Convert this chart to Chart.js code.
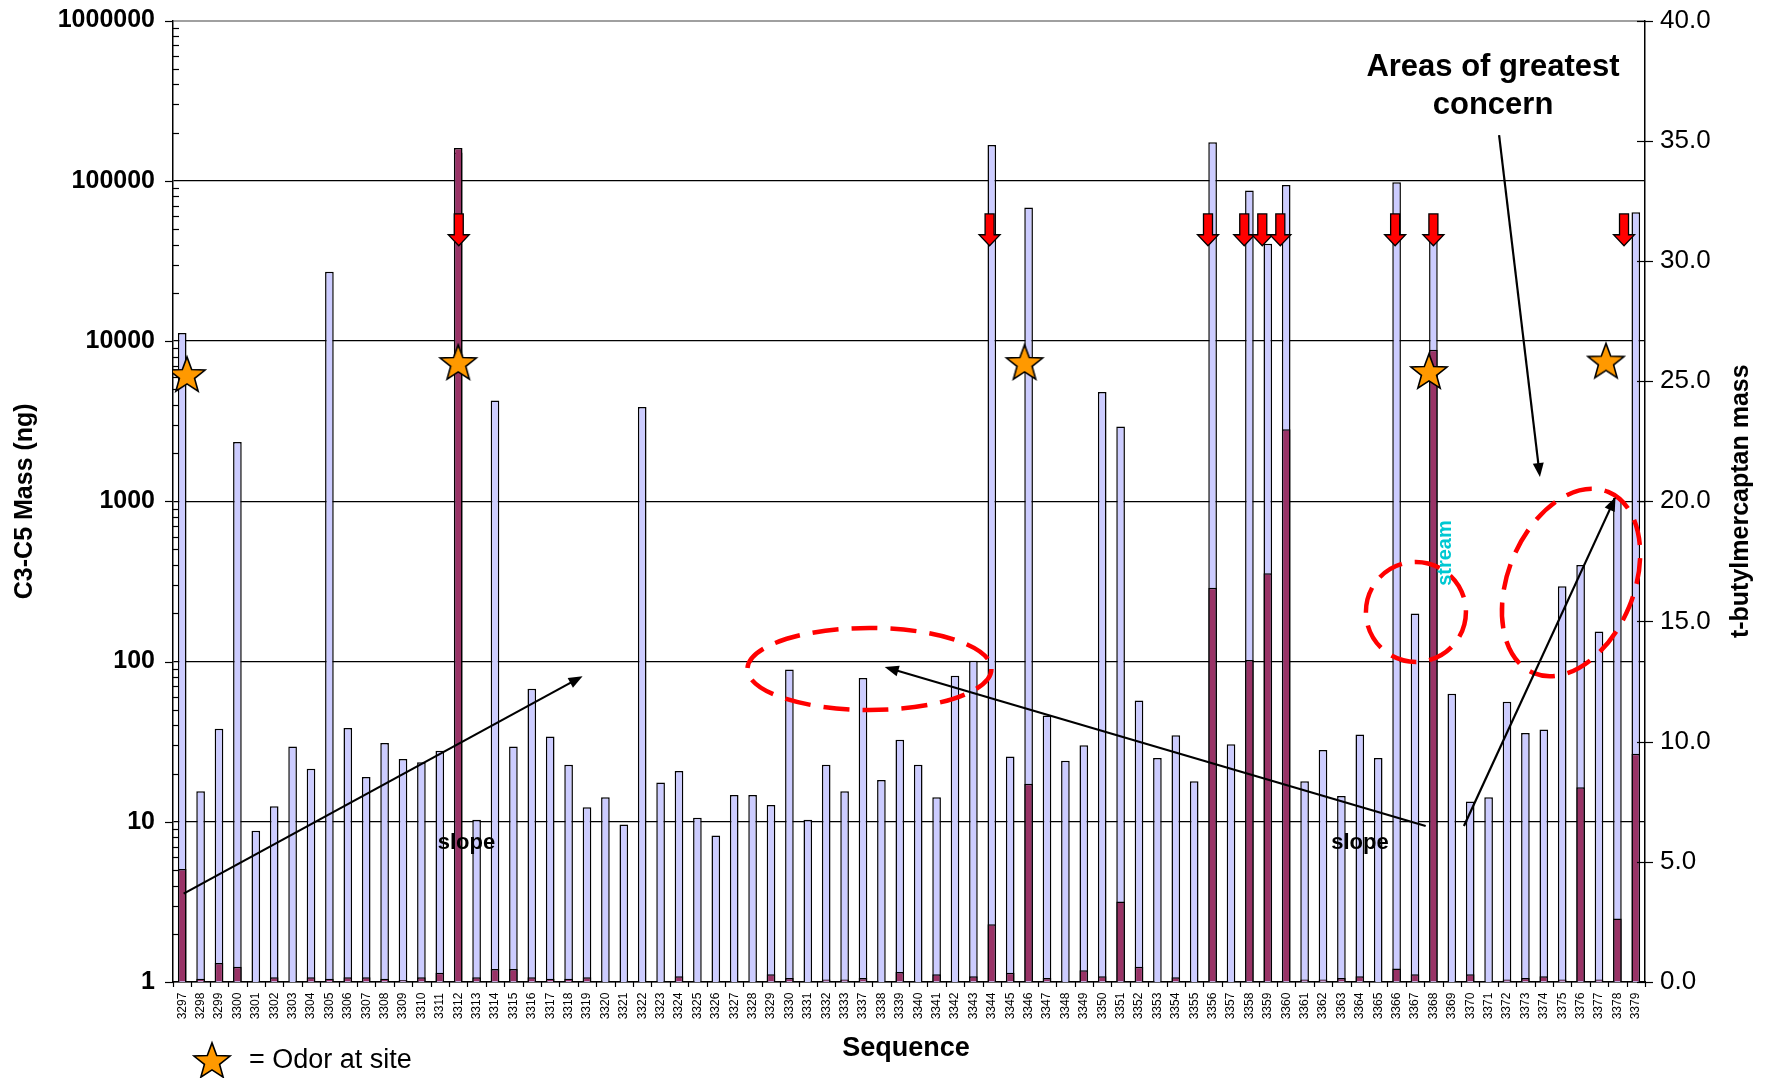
<!DOCTYPE html>
<html>
<head>
<meta charset="utf-8">
<script src="https://cdn.jsdelivr.net/npm/chart.js@4/dist/chart.umd.min.js"></script>
<style>
  html, body { margin: 0; padding: 0; background: #fff; }
  canvas { display: block; }
</style>
</head>
<body>
<canvas id="chart" width="1767" height="1078"></canvas>
<script>
const FONT = "'Liberation Sans', Arial, Helvetica, sans-serif";

// Sample sequence numbers (3334-3336 were not sampled)
const sequences = [
  '3297','3298','3299','3300','3301','3302','3303','3304','3305','3306',
  '3307','3308','3309','3310','3311','3312','3313','3314','3315','3316',
  '3317','3318','3319','3320','3321','3322','3323','3324','3325','3326',
  '3327','3328','3329','3330','3331','3332','3333','3337','3338','3339',
  '3340','3341','3342','3343','3344','3345','3346','3347','3348','3349',
  '3350','3351','3352','3353','3354','3355','3356','3357','3358','3359',
  '3360','3361','3362','3363','3364','3365','3366','3367','3368','3369',
  '3370','3371','3372','3373','3374','3375','3376','3377','3378','3379'
];

// C3-C5 mass (ng), left logarithmic axis
const c3c5Mass = [
  11200, 15.5, 38, 2340, 8.8, 12.5, 29.5, 21.4, 27000, 38.5,
  19, 31, 24.6, 23.5, 27.7, 150000, 10.3, 4250, 29.5, 67.5,
  34, 22.7, 12.3, 14.2, 9.6, 3870, 17.6, 20.7, 10.6, 8.2,
  14.7, 14.7, 12.7, 89, 10.3, 22.7, 15.5, 79, 18.2, 32.5,
  22.7, 14.2, 81.5, 101, 167000, 25.5, 68000, 46, 24, 30,
  4800, 2930, 57, 25, 34.7, 17.9, 174000, 30.5, 87000, 40500,
  94000, 17.9, 28, 14.5, 35, 25, 98000, 199, 62000, 63,
  13.4, 14.2, 56, 35.8, 37.6, 295, 400, 154, 1050, 63500
];

// t-butylmercaptan mass, right linear axis
const tbmMass = [
  4.7, 0.14, 0.79, 0.63, 0, 0.2, 0, 0.2, 0.14, 0.2,
  0.2, 0.14, 0.08, 0.2, 0.38, 34.7, 0.2, 0.54, 0.54, 0.2,
  0.14, 0.14, 0.2, 0, 0, 0, 0, 0.24, 0, 0,
  0, 0, 0.32, 0.17, 0, 0.1, 0.1, 0.17, 0, 0.42,
  0, 0.32, 0, 0.24, 2.4, 0.39, 8.25, 0.17, 0, 0.49,
  0.24, 3.35, 0.63, 0, 0.2, 0, 16.4, 0, 13.4, 17,
  23.0, 0.1, 0.1, 0.17, 0.24, 0, 0.56, 0.32, 26.3, 0,
  0.32, 0, 0.1, 0.17, 0.24, 0.1, 8.1, 0.1, 2.64, 9.5
];

const leftTicks = [1, 10, 100, 1000, 10000, 100000, 1000000];
const rightTicks = [0, 5, 10, 15, 20, 25, 30, 35, 40];

// Odor-at-site markers: x in sequence positions, y on the mass axis
const odorSites = [
  { x: 0.26, y: 6220 }, { x: 15.0, y: 7400 }, { x: 45.78, y: 7400 },
  { x: 67.76, y: 6500 }, { x: 77.38, y: 7550 }
];

// Red drop markers (sequence positions), spanning these mass levels
const dropMarkers = [15.03, 43.88, 55.75, 57.72, 58.7, 59.68, 65.92, 68.0, 78.36];
const dropTop = 62100, dropTip = 39300;

// Trend arrows: [position, mass] -> [position, mass]
const trendArrows = [
  { from: [0.08, 3.56],     to: [21.76, 81] },
  { from: [67.58, 9.4],     to: [38.18, 92.4] },
  { from: [69.66, 9.4],     to: [77.9, 1063] },
  { from: [71.57, 192900],  to: [73.79, 1417] }
];

// Dashed rings around areas of interest (centre in data units, radii in px)
const concernRings = [
  { x: 37.35, y: 89.8, rx: 122, ry: 41, rot: 0 },
  { x: 67.05, y: 204,  rx: 50,  ry: 50, rot: 0 },
  { x: 75.48, y: 311,  rx: 98,  ry: 63, rot: -67.7 }
];

const notes = [
  { text: 'slope',  x: 15.45, y: 7.37, size: 22, color: '#000', rot: 0 },
  { text: 'slope',  x: 64.01, y: 7.37, size: 22, color: '#000', rot: 0 },
  { text: 'stream', x: 68.63, y: 475,  size: 20, color: '#00C8D2', rot: -90 },
  { text: 'Areas of greatest', x: 71.24, y: 512000, size: 31, color: '#000', rot: 0 },
  { text: 'concern',           x: 71.24, y: 297000, size: 31, color: '#000', rot: 0 }
];

function makeStar(r) {
  const s = Math.ceil(r * 2 + 6);
  const c = document.createElement('canvas');
  c.width = s; c.height = s;
  const g = c.getContext('2d');
  g.translate(s / 2, s / 2 + r * 0.1);
  g.beginPath();
  for (let i = 0; i < 10; i++) {
    const rad = i % 2 ? r * 0.42 : r;
    const a = -Math.PI / 2 + i * Math.PI / 5;
    g.lineTo(rad * Math.cos(a), rad * Math.sin(a));
  }
  g.closePath();
  g.fillStyle = '#FF9900';
  g.fill();
  g.lineWidth = 1.6;
  g.strokeStyle = '#000';
  g.stroke();
  return c;
}
const starImg = makeStar(19);

function seg(ctx, x1, y1, x2, y2) {
  ctx.beginPath(); ctx.moveTo(x1, y1); ctx.lineTo(x2, y2); ctx.stroke();
}

function blackArrow(ctx, x1, y1, x2, y2) {
  const len = 14, half = 5.5;
  const a = Math.atan2(y2 - y1, x2 - x1);
  const c = Math.cos(a), s = Math.sin(a);
  ctx.strokeStyle = '#000'; ctx.fillStyle = '#000'; ctx.lineWidth = 2.2;
  seg(ctx, x1, y1, x2 - c * len * 0.7, y2 - s * len * 0.7);
  ctx.beginPath();
  ctx.moveTo(x2, y2);
  ctx.lineTo(x2 - len * c + half * s, y2 - len * s - half * c);
  ctx.lineTo(x2 - len * c - half * s, y2 - len * s + half * c);
  ctx.closePath();
  ctx.fill();
}

function dropArrow(ctx, cx, top, tip) {
  const sw = 4.5, hw = 10.5, hl = 11;
  ctx.beginPath();
  ctx.moveTo(cx - sw, top); ctx.lineTo(cx + sw, top);
  ctx.lineTo(cx + sw, tip - hl); ctx.lineTo(cx + hw, tip - hl);
  ctx.lineTo(cx, tip);
  ctx.lineTo(cx - hw, tip - hl); ctx.lineTo(cx - sw, tip - hl);
  ctx.closePath();
  ctx.fillStyle = '#FF0000'; ctx.fill();
  ctx.lineWidth = 1.3; ctx.strokeStyle = '#000'; ctx.stroke();
}

const overlay = {
  id: 'overlay',
  afterDatasetsDraw(chart) {
    const { ctx, chartArea: a, scales } = chart;
    const { x, xs, y, y2 } = scales;
    const px = v => xs.getPixelForValue(v);
    const py = v => y.getPixelForValue(v);
    ctx.save();

    // left axis: major ticks outside, minor ticks inside
    ctx.strokeStyle = '#000'; ctx.lineWidth = 1.2;
    for (let d = 0; d < 6; d++) {
      for (let k = 2; k <= 9; k++) {
        const yy = Math.round(py(k * Math.pow(10, d))) + 0.5;
        seg(ctx, a.left, yy, a.left + 6, yy);
      }
    }
    leftTicks.forEach(v => {
      const yy = Math.round(py(v)) + 0.5;
      seg(ctx, a.left - 8, yy, a.left, yy);
    });

    // right axis ticks crossing the axis line
    rightTicks.forEach(v => {
      const yy = Math.round(y2.getPixelForValue(v)) + 0.5;
      seg(ctx, a.right - 8, yy, a.right + 8, yy);
    });

    // category boundary ticks and rotated sequence labels
    const w = (a.right - a.left) / sequences.length;
    for (let i = 0; i <= sequences.length; i++) {
      const xx = Math.round(a.left + i * w) + 0.5;
      seg(ctx, xx, a.bottom, xx, a.bottom + 5);
    }
    ctx.fillStyle = '#000';
    ctx.font = `12px ${FONT}`;
    ctx.textAlign = 'center'; ctx.textBaseline = 'middle';
    sequences.forEach((lab, i) => {
      ctx.save();
      ctx.translate(x.getPixelForValue(i), a.bottom + 24);
      ctx.rotate(-Math.PI / 2);
      ctx.fillText(lab, 0, 0);
      ctx.restore();
    });

    // axis titles
    ctx.font = `bold 25px ${FONT}`;
    ctx.save();
    ctx.translate(25, (a.top + a.bottom) / 2);
    ctx.rotate(-Math.PI / 2);
    ctx.fillText('C3-C5 Mass (ng)', 0, 0);
    ctx.restore();
    ctx.save();
    ctx.translate(1741, (a.top + a.bottom) / 2);
    ctx.rotate(-Math.PI / 2);
    ctx.fillText('t-butylmercaptan mass', 0, 0);
    ctx.restore();
    ctx.font = `bold 27px ${FONT}`;
    ctx.fillText('Sequence', (a.left + a.right) / 2 - 3, 1049);

    // legend for the odor marker
    ctx.drawImage(starImg, 212 - starImg.width / 2, 1060 - starImg.height / 2);
    ctx.font = `27px ${FONT}`;
    ctx.textAlign = 'left';
    ctx.fillText('= Odor at site', 249, 1061);

    // dashed rings
    ctx.strokeStyle = '#FF0000'; ctx.lineWidth = 4.5;
    ctx.setLineDash([26, 13]);
    concernRings.forEach(r => {
      ctx.beginPath();
      ctx.ellipse(px(r.x), py(r.y), r.rx, r.ry, r.rot * Math.PI / 180, 0, Math.PI * 2);
      ctx.stroke();
    });
    ctx.setLineDash([]);

    // trend arrows
    trendArrows.forEach(t => {
      blackArrow(ctx, px(t.from[0]), py(t.from[1]), px(t.to[0]), py(t.to[1]));
    });

    // red drop markers
    dropMarkers.forEach(p => dropArrow(ctx, px(p), py(dropTop), py(dropTip)));

    // text notes
    ctx.textAlign = 'center'; ctx.textBaseline = 'middle';
    notes.forEach(n => {
      ctx.save();
      ctx.fillStyle = n.color;
      ctx.font = `bold ${n.size}px ${FONT}`;
      ctx.translate(px(n.x), py(n.y));
      ctx.rotate(n.rot * Math.PI / 180);
      ctx.fillText(n.text, 0, 0);
      ctx.restore();
    });

    ctx.restore();
  }
};

function noVPad(s) { s.paddingTop = 0; s.paddingBottom = 0; }

new Chart(document.getElementById('chart'), {
  type: 'bar',
  data: {
    labels: sequences,
    datasets: [
      {
        label: 't-butylmercaptan mass',
        data: tbmMass,
        yAxisID: 'y2',
        xAxisID: 'x',
        backgroundColor: '#993366',
        borderColor: '#000',
        borderWidth: 1.5,
        grouped: false,
        barPercentage: 0.47,
        categoryPercentage: 1,
        order: 1
      },
      {
        label: 'C3-C5 Mass (ng)',
        data: c3c5Mass,
        yAxisID: 'y',
        xAxisID: 'x',
        backgroundColor: '#CCCCFF',
        borderColor: '#000',
        borderWidth: 1.5,
        grouped: false,
        barPercentage: 0.47,
        categoryPercentage: 1,
        order: 2
      },
      {
        type: 'scatter',
        label: 'Odor at site',
        data: odorSites,
        xAxisID: 'xs',
        yAxisID: 'y',
        pointStyle: starImg,
        pointRadius: 19,
        order: 0
      }
    ]
  },
  options: {
    responsive: false,
    animation: false,
    events: [],
    layout: { padding: { top: 20.5, left: 0, right: 0, bottom: 0 } },
    plugins: { legend: { display: false }, tooltip: { enabled: false } },
    scales: {
      x: {
        type: 'category',
        offset: true,
        grid: { display: false },
        ticks: { display: false },
        border: { display: true, color: '#000', width: 1.5 },
        afterFit(s) { s.height = 96; s.paddingLeft = 0; s.paddingRight = 0; }
      },
      xs: {
        type: 'linear',
        display: false,
        offset: false,
        grace: 0,
        min: -0.5,
        max: sequences.length - 0.5
      },
      y: {
        type: 'logarithmic',
        position: 'left',
        min: 1,
        max: 1000000,
        afterBuildTicks(s) { s.ticks = leftTicks.map(v => ({ value: v })); },
        ticks: {
          callback: v => String(v),
          autoSkip: false,
          color: '#000',
          padding: 18,
          font: { family: FONT, size: 25, weight: 'bold' }
        },
        grid: {
          drawTicks: false,
          color: c => (c.tick && c.tick.value === 1000000) ? '#a0a0a0' : '#000',
          lineWidth: c => (c.tick && c.tick.value === 1000000) ? 2 : 1.2
        },
        border: { display: true, color: '#000', width: 1.5 },
        afterFit(s) { s.width = 173; noVPad(s); }
      },
      y2: {
        type: 'linear',
        position: 'right',
        min: 0,
        max: 40,
        afterBuildTicks(s) { s.ticks = rightTicks.map(v => ({ value: v })); },
        ticks: {
          callback: v => Number(v).toFixed(1),
          color: '#000',
          padding: 15,
          font: { family: FONT, size: 26 }
        },
        grid: { drawOnChartArea: false, drawTicks: false },
        border: { display: true, color: '#000', width: 1.5 },
        afterFit(s) { s.width = 122; noVPad(s); }
      }
    }
  },
  plugins: [overlay]
});
</script>
</body>
</html>
